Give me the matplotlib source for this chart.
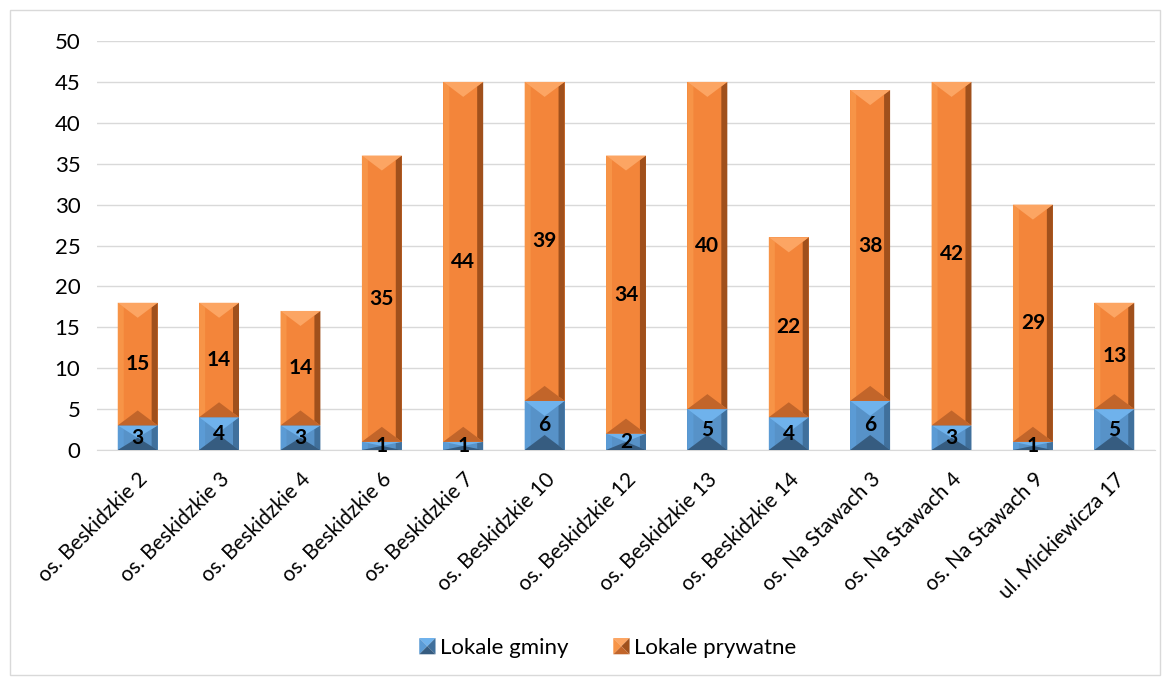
import matplotlib
matplotlib.use("Agg")
import matplotlib.pyplot as plt
from matplotlib.patches import Polygon, Rectangle
from matplotlib.legend_handler import HandlerPatch

plt.rcParams['font.family'] = ['Lato', 'DejaVu Sans']

categories = ["os. Beskidzkie 2", "os. Beskidzkie 3", "os. Beskidzkie 4", "os. Beskidzkie 6",
              "os. Beskidzkie 7", "os. Beskidzkie 10", "os. Beskidzkie 12", "os. Beskidzkie 13",
              "os. Beskidzkie 14", "os. Na Stawach 3", "os. Na Stawach 4", "os. Na Stawach 9",
              "ul. Mickiewicza 17"]
gminy = [3, 4, 3, 1, 1, 6, 2, 5, 4, 6, 3, 1, 5]
prywatne = [15, 14, 14, 35, 44, 39, 34, 40, 22, 38, 42, 29, 13]
yticks = list(range(0, 51, 5))

# face, top, left, right, bottom
blue_shades = ["#5792C8", "#6FB2EC", "#5B9BD5", "#40709C", "#365C80"]
orange_shades = ["#F3853A", "#FCA563", "#F79447", "#A0501C", "#C2652A"]

W, H = 1171, 682
fig = plt.figure(figsize=(W / 100, H / 100), dpi=100)
ax = fig.add_axes([97 / W, 232 / H, 1058 / W, 409 / H])

x = list(range(len(categories)))
bw = 0.49
b1 = ax.bar(x, gminy, width=bw, color=blue_shades[0], zorder=2)
b2 = ax.bar(x, prywatne, width=bw, bottom=gminy, color=orange_shades[0], zorder=2)

ax.set_xlim(-0.5, len(categories) - 0.5)
ax.set_ylim(0, 50)
ax.set_yticks(yticks)
ax.grid(axis='y', color='#D9D9D9', linewidth=1, zorder=0)
for s in ['top', 'right', 'left']:
    ax.spines[s].set_visible(False)
ax.spines['bottom'].set_color('#D9D9D9')
ax.tick_params(axis='both', length=0, colors='black')
ax.tick_params(axis='y', pad=12, labelsize=16)
ax.tick_params(axis='x', pad=14, labelsize=15)
ax.set_xticks(x)
ax.set_xticklabels(categories, rotation=45, ha='right', va='top', rotation_mode='anchor')

# pixel -> data scale
xpp = (len(categories)) / 1058.0
ypp = 50 / 409.0


def bevel(ax, rect, shades):
    x0, y0 = rect.get_x(), rect.get_y()
    w, h = rect.get_width(), rect.get_height()
    x1, y1 = x0 + w, y0 + h
    xc, hw = x0 + w / 2, w / 2
    bx = min(6 * xpp, hw)
    by = min(15 * ypp, h / 2)
    yt = y1 - by * bx / hw   # where the top ridge meets the side strip
    yb = y0 + by * bx / hw
    polys = [
        ([(x0, y0), (x0, y1), (x0 + bx, yt), (x0 + bx, yb)], shades[2]),
        ([(x1, y0), (x1, y1), (x1 - bx, yt), (x1 - bx, yb)], shades[3]),
        ([(x0, y1), (x1, y1), (xc, y1 - by)], shades[1]),
        ([(x0, y0), (x1, y0), (xc, y0 + by)], shades[4]),
    ]
    for pts, c in polys:
        ax.add_patch(Polygon(pts, closed=True, facecolor=c, edgecolor='none', zorder=3))


for r in b1:
    bevel(ax, r, blue_shades)
for r in b2:
    bevel(ax, r, orange_shades)

for i in x:
    ax.text(i, gminy[i] / 2, str(gminy[i]), ha='center', va='center', fontsize=15,
            fontweight='bold', color='black', zorder=4)
    ax.text(i, gminy[i] + prywatne[i] / 2, str(prywatne[i]), ha='center', va='center',
            fontsize=15, fontweight='bold', color='black', zorder=4)


class BevelHandler(HandlerPatch):
    def __init__(self, shades):
        super().__init__()
        self.shades = shades

    def create_artists(self, legend, orig_handle, xdescent, ydescent, width, height, fontsize, trans):
        s = min(width, height)
        x0 = -xdescent + (width - s) / 2
        y0 = -ydescent + (height - s) / 2
        x1, y1 = x0 + s, y0 + s
        xc, yc = x0 + s / 2, y0 + s / 2
        sh = self.shades
        tris = [
            ([(x0, y1), (x1, y1), (xc, yc)], sh[1]),
            ([(x0, y0), (x0, y1), (xc, yc)], sh[2]),
            ([(x1, y0), (x1, y1), (xc, yc)], sh[3]),
            ([(x0, y0), (x1, y0), (xc, yc)], sh[4]),
        ]
        return [Polygon(pts, closed=True, facecolor=c, edgecolor='none', transform=trans)
                for pts, c in tris]


h1 = Rectangle((0, 0), 1, 1, color=blue_shades[0])
h2 = Rectangle((0, 0), 1, 1, color=orange_shades[0])
fig.legend([h1, h2], ["Lokale gminy", "Lokale prywatne"], loc='center',
           bbox_to_anchor=(0.519, 0.05), ncol=2, frameon=False, fontsize=16,
           handlelength=0.75, handleheight=0.75, handletextpad=0.2, columnspacing=2.0,
           handler_map={h1: BevelHandler(blue_shades), h2: BevelHandler(orange_shades)})

fig.patches.append(Rectangle((10 / W, 7 / H), 1150 / W, 665 / H, transform=fig.transFigure,
                             fill=False, edgecolor='#D9D9D9', linewidth=1))

fig.savefig("out.png", dpi=100)
